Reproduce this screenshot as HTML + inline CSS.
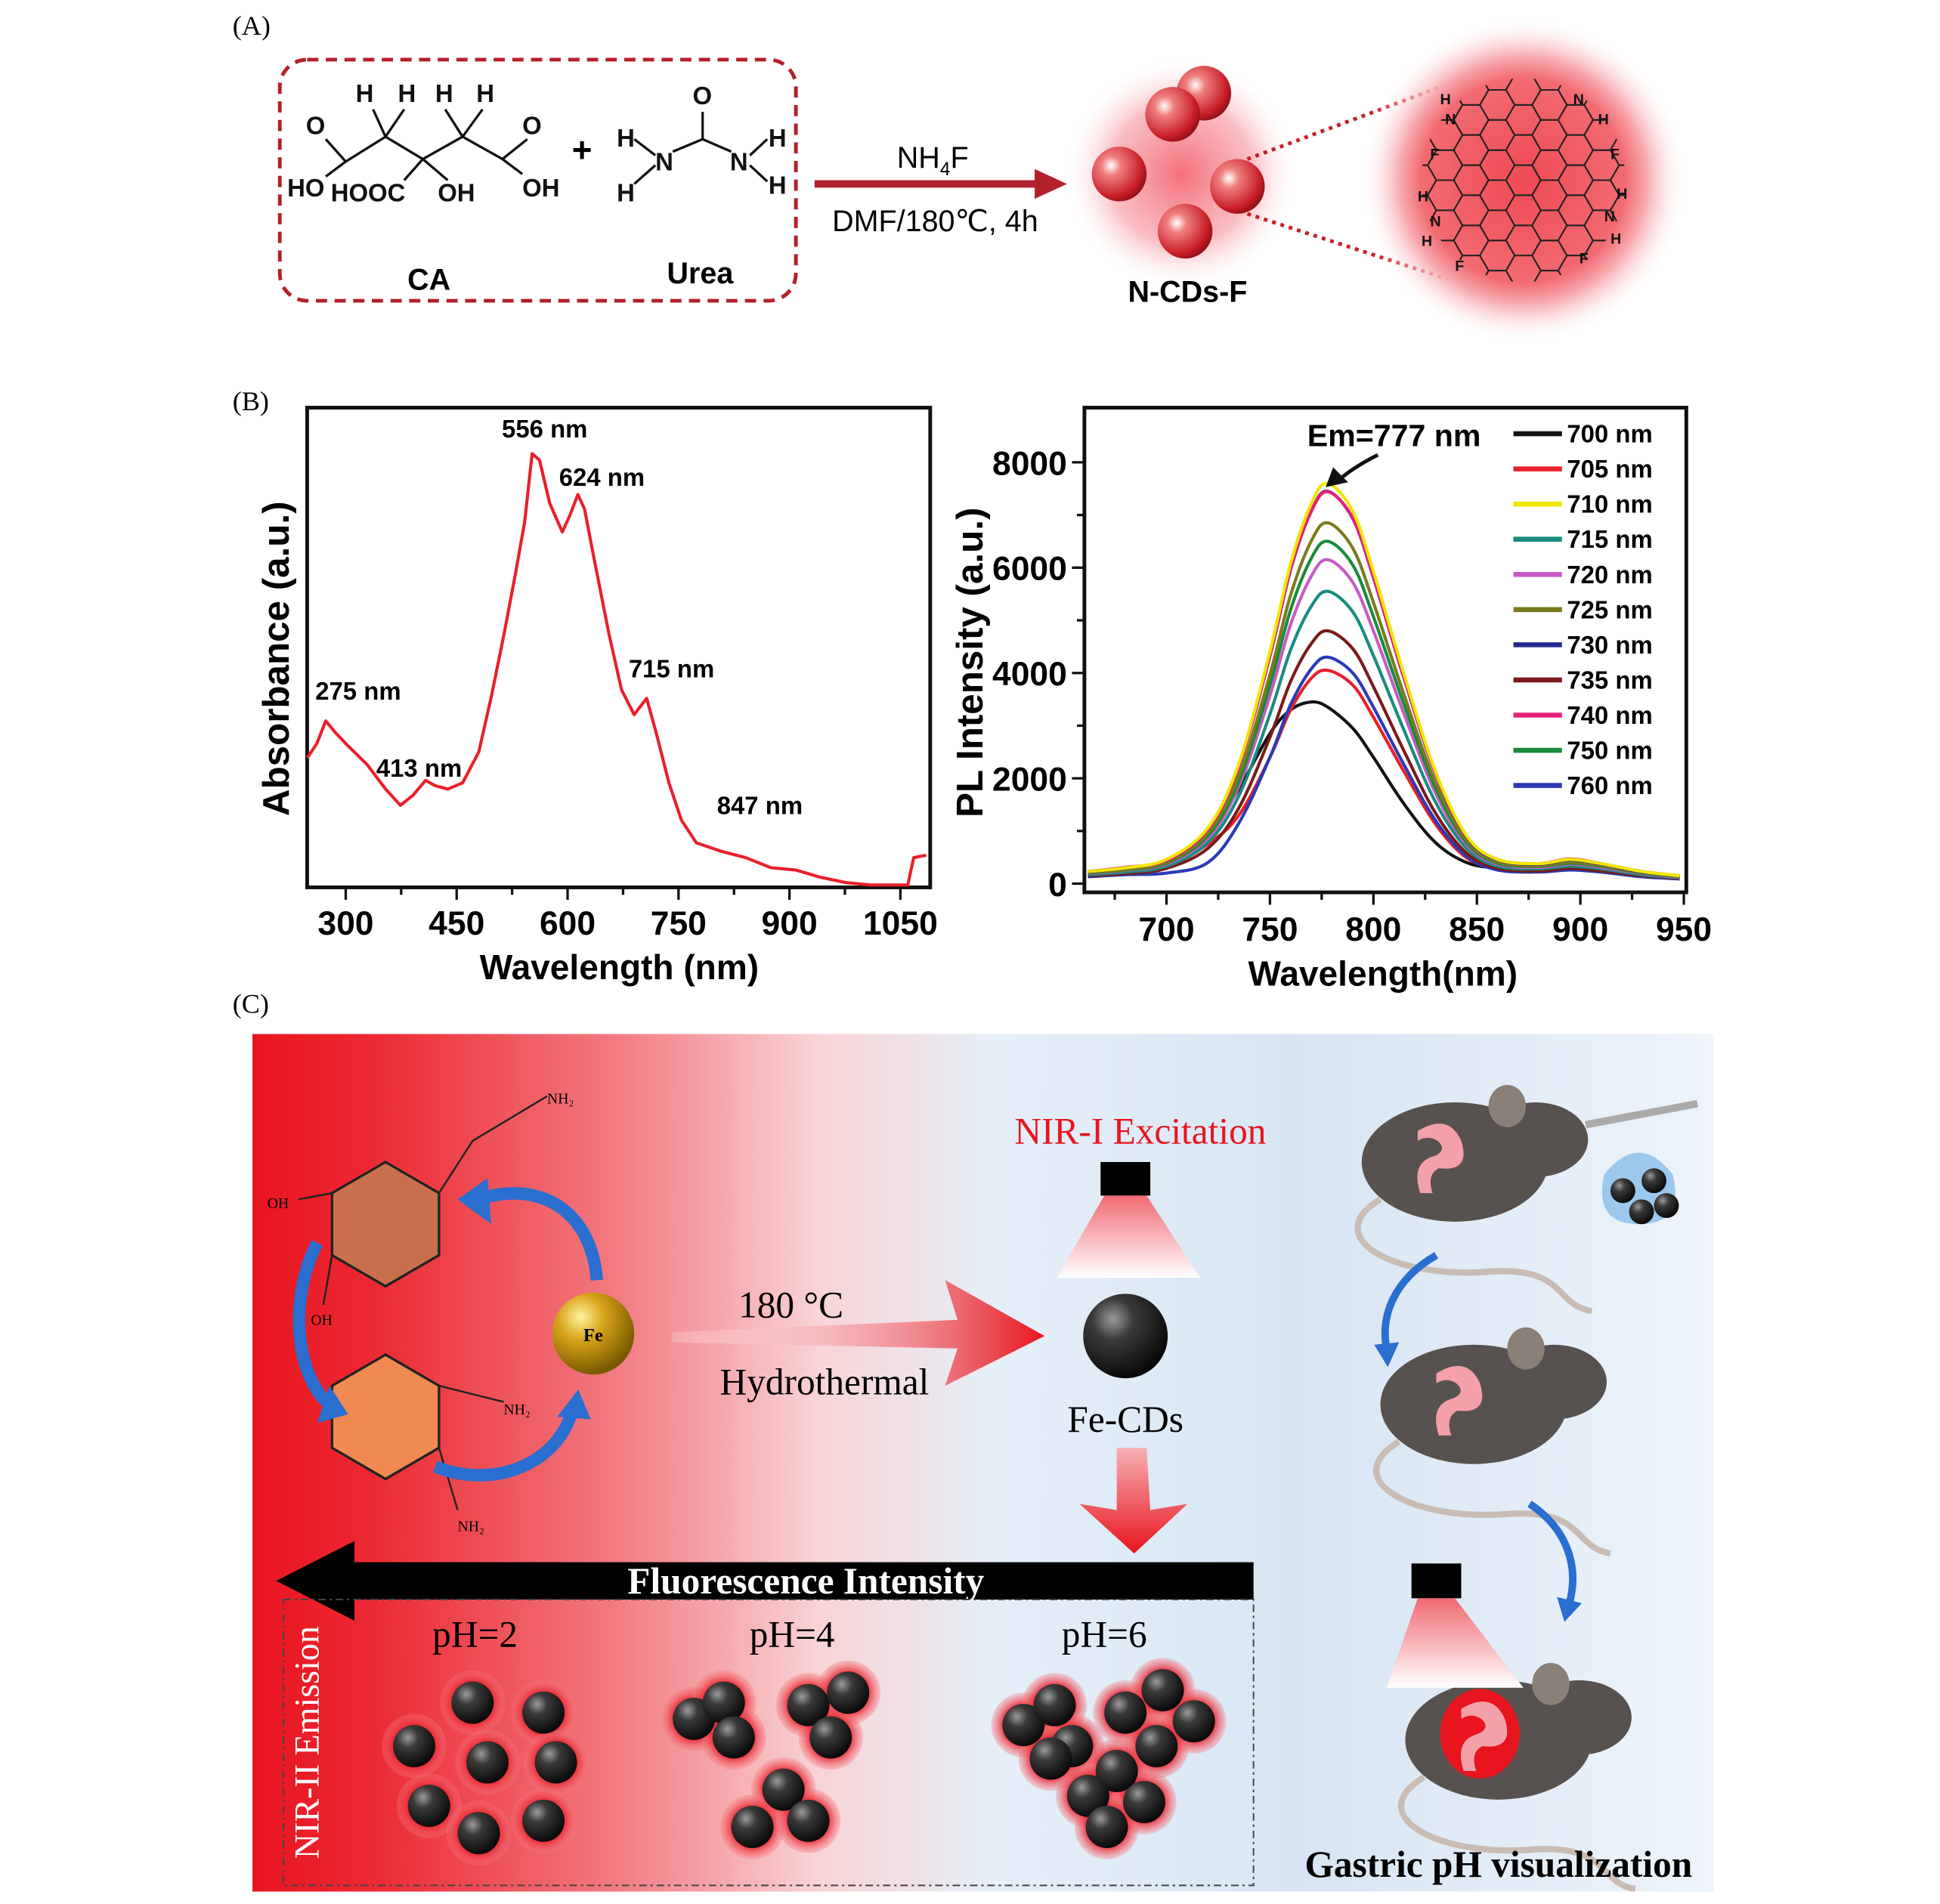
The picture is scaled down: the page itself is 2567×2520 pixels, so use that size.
<!DOCTYPE html>
<html><head><meta charset="utf-8"><style>
html,body{margin:0;padding:0;background:#fff}
svg{display:block}
text{font-family:"Liberation Sans",Arial,sans-serif}
.serif{font-family:"Liberation Serif","Times New Roman",serif}
</style></head><body>
<svg id="fig" width="2567" height="2520" viewBox="0 0 1560 1532" preserveAspectRatio="none" xmlns="http://www.w3.org/2000/svg">
<defs>
<radialGradient id="redball" cx="0.35" cy="0.35" r="0.7"><stop offset="0" stop-color="#fff"/><stop offset="0.25" stop-color="#f08080"/><stop offset="0.8" stop-color="#c81e28"/><stop offset="1" stop-color="#901018"/></radialGradient>
<radialGradient id="glow" cx="0.5" cy="0.5" r="0.5"><stop offset="0" stop-color="#f04050" stop-opacity="0.75"/><stop offset="0.6" stop-color="#f47a84" stop-opacity="0.5"/><stop offset="1" stop-color="#fff" stop-opacity="0"/></radialGradient>
<radialGradient id="bigglow" cx="0.5" cy="0.5" r="0.5"><stop offset="0" stop-color="#ef4a55"/><stop offset="0.62" stop-color="#f26a72"/><stop offset="0.75" stop-color="#f7a8ad"/><stop offset="1" stop-color="#fff" stop-opacity="0"/></radialGradient>
<radialGradient id="blackball" cx="0.35" cy="0.3" r="0.7"><stop offset="0" stop-color="#9a9a9a"/><stop offset="0.35" stop-color="#3a3a3a"/><stop offset="1" stop-color="#0a0a0a"/></radialGradient>
<radialGradient id="goldball" cx="0.35" cy="0.3" r="0.7"><stop offset="0" stop-color="#fff3a0"/><stop offset="0.4" stop-color="#d8a418"/><stop offset="1" stop-color="#7a5a00"/></radialGradient>
<radialGradient id="cglow" cx="0.5" cy="0.5" r="0.5"><stop offset="0.55" stop-color="#e8101c"/><stop offset="1" stop-color="#f47a80" stop-opacity="0.3"/></radialGradient>
<linearGradient id="cbg" x1="0" x2="1" y1="0" y2="0"><stop offset="0" stop-color="#e8141e"/><stop offset="0.12" stop-color="#ec2a34"/><stop offset="0.35" stop-color="#f27a80"/><stop offset="0.55" stop-color="#f8d4d6"/><stop offset="0.72" stop-color="#e6eff8"/><stop offset="1" stop-color="#d8e6f4"/></linearGradient>
<linearGradient id="rbg" x1="0" x2="1" y1="0" y2="0"><stop offset="0" stop-color="#d6e4f3"/><stop offset="1" stop-color="#eef4fa"/></linearGradient>
<linearGradient id="cone" x1="0" x2="0" y1="0" y2="1"><stop offset="0" stop-color="#f06a72"/><stop offset="1" stop-color="#fff"/></linearGradient>
<linearGradient id="harrow" x1="0" x2="1"><stop offset="0" stop-color="#fff" stop-opacity="0.2"/><stop offset="1" stop-color="#e8141e"/></linearGradient>
<linearGradient id="varrow" x1="0" x2="0" y1="0" y2="1"><stop offset="0" stop-color="#f6b0b4"/><stop offset="1" stop-color="#e8141e"/></linearGradient>
<clipPath id="bigclip"><circle cx="1225" cy="145" r="82"/></clipPath>
<clipPath id="rclip"><rect x="1030" y="832" width="348" height="690"/></clipPath>
</defs>

<!-- PANEL A -->
<g>
<text class="serif" x="187" y="28" font-size="22">(A)</text>
<rect x="225" y="48" width="415" height="194" rx="22" fill="none" stroke="#b4202a" stroke-width="3" stroke-dasharray="9,6"/>
<g font-size="20" font-weight="bold" fill="#111">
<text x="286" y="82">H</text><text x="320" y="82">H</text><text x="350" y="82">H</text><text x="383" y="82">H</text>
<text x="246" y="108">O</text><text x="420" y="108">O</text>
<text x="231" y="158">HO</text><text x="266" y="162">HOOC</text><text x="352" y="162">OH</text><text x="420" y="158">OH</text>
<polyline points="262,112 278,130 262,142" fill="none" stroke="#111" stroke-width="2"/>
<polyline points="278,130 310,110 340,128 372,110 404,128 420,140" fill="none" stroke="#111" stroke-width="2"/>
<line x1="404" y1="128" x2="424" y2="112" stroke="#111" stroke-width="2"/>
<line x1="310" y1="110" x2="300" y2="88" stroke="#111" stroke-width="2"/><line x1="310" y1="110" x2="325" y2="88" stroke="#111" stroke-width="2"/>
<line x1="372" y1="110" x2="358" y2="88" stroke="#111" stroke-width="2"/><line x1="372" y1="110" x2="388" y2="88" stroke="#111" stroke-width="2"/>
<line x1="340" y1="128" x2="325" y2="145" stroke="#111" stroke-width="2"/><line x1="340" y1="128" x2="360" y2="145" stroke="#111" stroke-width="2"/>
</g>
<text x="345" y="233" font-size="24" font-weight="bold" text-anchor="middle">CA</text>
<text x="468" y="130" font-size="28" font-weight="bold" text-anchor="middle">+</text>
<g font-size="20" font-weight="bold" fill="#111">
<text x="557" y="84">O</text><text x="496" y="118">H</text><text x="527" y="137">N</text><text x="496" y="162">H</text>
<text x="587" y="137">N</text><text x="618" y="118">H</text><text x="618" y="156">H</text>
<line x1="565" y1="90" x2="565" y2="112" stroke="#111" stroke-width="2"/><line x1="541" y1="122" x2="565" y2="112" stroke="#111" stroke-width="2"/><line x1="565" y1="112" x2="588" y2="122" stroke="#111" stroke-width="2"/>
<line x1="510" y1="112" x2="527" y2="125" stroke="#111" stroke-width="2"/><line x1="510" y1="148" x2="527" y2="133" stroke="#111" stroke-width="2"/>
<line x1="603" y1="125" x2="617" y2="112" stroke="#111" stroke-width="2"/><line x1="603" y1="133" x2="617" y2="146" stroke="#111" stroke-width="2"/>
</g>
<text x="563" y="228" font-size="24" font-weight="bold" text-anchor="middle">Urea</text>
<line x1="655" y1="148" x2="835" y2="148" stroke="#b4202a" stroke-width="6"/>
<polygon points="832,136 858,148 832,160" fill="#b4202a"/>
<text x="750" y="135" font-size="24" text-anchor="middle">NH<tspan font-size="15" dy="6">4</tspan><tspan dy="-6">F</tspan></text>
<text x="752" y="186" font-size="24" text-anchor="middle">DMF/180℃, 4h</text>
<g>
<circle cx="950" cy="140" r="95" fill="url(#glow)"/>
<circle cx="968" cy="75" r="22" fill="url(#redball)"/><circle cx="943" cy="92" r="22" fill="url(#redball)"/><circle cx="900" cy="140" r="22" fill="url(#redball)"/><circle cx="995" cy="150" r="22" fill="url(#redball)"/><circle cx="953" cy="186" r="22" fill="url(#redball)"/>
</g>
<text x="955" y="243" font-size="24" font-weight="bold" text-anchor="middle">N-CDs-F</text>
<line x1="1003" y1="128" x2="1212" y2="50" stroke="#c81e28" stroke-width="3" stroke-dasharray="3,4"/>
<line x1="1003" y1="172" x2="1212" y2="240" stroke="#c81e28" stroke-width="3" stroke-dasharray="3,4"/>
<circle cx="1225" cy="145" r="132" fill="url(#bigglow)"/>
<g id="hexgrid" clip-path="url(#bigclip)"></g>
<g font-size="12" font-weight="bold" fill="#111">
<text x="1158" y="84">H</text><text x="1162" y="100">N</text><text x="1150" y="128">F</text><text x="1140" y="162">H</text><text x="1150" y="182">N</text><text x="1143" y="198">H</text><text x="1170" y="218">F</text><text x="1265" y="84">N</text><text x="1285" y="100">H</text><text x="1295" y="128">F</text><text x="1300" y="160">H</text><text x="1290" y="178">N</text><text x="1295" y="196">H</text><text x="1270" y="212">F</text>
</g>
</g>

<!-- PANEL B -->
<text class="serif" x="187" y="330" font-size="22">(B)</text>
<g id="absChart"></g>
<g id="plChart"></g>

<!-- PANEL C -->
<g>
<text class="serif" x="187" y="815" font-size="22">(C)</text>
<rect x="203" y="832" width="830" height="690" fill="url(#cbg)"/>
<rect x="1030" y="832" width="348" height="690" fill="url(#rbg)"/>
<g>
<polygon points="310,935 353,960 353,1010 310,1035 267,1010 267,960" fill="#c8704c" stroke="#222" stroke-width="2"/>
<polygon points="310,1090 353,1115 353,1165 310,1190 267,1165 267,1115" fill="#f08a50" stroke="#222" stroke-width="2"/>
<polyline points="353,960 380,918 410,900 440,882" fill="none" stroke="#222" stroke-width="1.5"/>
<text class="serif" x="440" y="888" font-size="12">NH₂</text>
<line x1="267" y1="960" x2="240" y2="965" stroke="#222" stroke-width="1.5"/><text class="serif" x="215" y="972" font-size="12">OH</text>
<line x1="267" y1="1010" x2="260" y2="1050" stroke="#222" stroke-width="1.5"/><text class="serif" x="250" y="1066" font-size="12">OH</text>
<line x1="353" y1="1115" x2="405" y2="1128" stroke="#222" stroke-width="1.5"/><text class="serif" x="405" y="1138" font-size="12">NH₂</text>
<line x1="353" y1="1165" x2="368" y2="1215" stroke="#222" stroke-width="1.5"/><text class="serif" x="368" y="1232" font-size="12">NH₂</text>
<path d="M480,1030 C475,970 430,950 385,965" fill="none" stroke="#2a6ed0" stroke-width="10"/><polygon points="368,965 392,948 395,985" fill="#2a6ed0"/>
<path d="M255,1000 C230,1050 240,1110 265,1130" fill="none" stroke="#2a6ed0" stroke-width="10"/><polygon points="280,1138 255,1145 265,1115" fill="#2a6ed0"/>
<path d="M350,1180 C400,1200 450,1175 460,1135" fill="none" stroke="#2a6ed0" stroke-width="10"/><polygon points="465,1118 475,1142 448,1140" fill="#2a6ed0"/>
<circle cx="477" cy="1073" r="33" fill="url(#goldball)"/><text class="serif" x="477" y="1079" font-size="15" font-weight="bold" text-anchor="middle">Fe</text>
</g>
<polygon points="540,1072 770,1062 760,1030 840,1075 760,1115 770,1085 540,1080" fill="url(#harrow)"/>
<text class="serif" x="636" y="1060" font-size="30" text-anchor="middle">180 °C</text>
<text class="serif" x="663" y="1122" font-size="30" text-anchor="middle">Hydrothermal</text>
<text class="serif" x="917" y="920" font-size="30" fill="#e8141e" text-anchor="middle">NIR-I Excitation</text>
<rect x="885" y="935" width="40" height="27" fill="#000"/>
<polygon points="888,962 922,962 965,1028 850,1028" fill="url(#cone)"/>
<circle cx="905" cy="1075" r="34" fill="url(#blackball)"/>
<text class="serif" x="905" y="1152" font-size="30" text-anchor="middle">Fe-CDs</text>
<polygon points="898,1165 922,1165 925,1215 955,1210 912,1250 868,1210 898,1215" fill="url(#varrow)"/>
<polygon points="1008,1257 285,1257 285,1240 222,1272 285,1304 285,1287 1008,1287" fill="#000"/>
<text class="serif" x="648" y="1282" font-size="30" font-weight="bold" fill="#fff" text-anchor="middle">Fluorescence Intensity</text>
<rect x="228" y="1287" width="780" height="230" fill="none" stroke="#444" stroke-width="1.2" stroke-dasharray="6,3,2,3"/>
<text class="serif" x="0" y="0" font-size="28" fill="#fff" text-anchor="middle" transform="translate(256,1402) rotate(-90)">NIR-II Emission</text>
<text class="serif" x="382" y="1325" font-size="30" text-anchor="middle">pH=2</text>
<text class="serif" x="637" y="1325" font-size="30" text-anchor="middle">pH=4</text>
<text class="serif" x="888" y="1325" font-size="30" text-anchor="middle">pH=6</text>
<g id="clusters"></g>
<g id="mice" clip-path="url(#rclip)"></g>
<rect x="1135" y="1258" width="40" height="28" fill="#000"/>
<polygon points="1140,1286 1170,1286 1225,1358 1115,1358" fill="url(#cone)"/>
<text class="serif" x="1205" y="1510" font-size="30" font-weight="bold" text-anchor="middle">Gastric pH visualization</text>
</g>
</svg>
<script>
var NS='http://www.w3.org/2000/svg';
function mk(p,tag,attrs,txt){var e=document.createElementNS(NS,tag);for(var k in attrs)e.setAttribute(k,attrs[k]);if(txt!==undefined)e.textContent=txt;p.appendChild(e);return e;}
function smoothPath(px,py){
 var d='M'+px[0].toFixed(1)+','+py[0].toFixed(1);
 for(var i=0;i<px.length-1;i++){
  var x0=px[Math.max(i-1,0)],y0=py[Math.max(i-1,0)],x1=px[i],y1=py[i],x2=px[i+1],y2=py[i+1],x3=px[Math.min(i+2,px.length-1)],y3=py[Math.min(i+2,px.length-1)];
  var c1x=x1+(x2-x0)/6,c1y=y1+(y2-y0)/6,c2x=x2-(x3-x1)/6,c2y=y2-(y3-y1)/6;
  d+='C'+c1x.toFixed(1)+','+c1y.toFixed(1)+' '+c2x.toFixed(1)+','+c2y.toFixed(1)+' '+x2.toFixed(1)+','+y2.toFixed(1);
 }
 return d;
}

// ---------- Absorbance data ----------
var absWavelengths=[248,261,273,287,303,329,354,374,391,408,421,438,458,480,497,514,530,542,552,562,576,593,603,614,623,636,656,673,690,707,720,737,754,774,808,841,875,909,942,976,1010,1043,1060,1068,1085];
var absValues=[0.27,0.30,0.347,0.321,0.295,0.256,0.205,0.171,0.192,0.223,0.212,0.205,0.218,0.282,0.399,0.528,0.658,0.762,0.904,0.891,0.80,0.741,0.775,0.819,0.788,0.684,0.528,0.412,0.36,0.394,0.321,0.218,0.14,0.093,0.075,0.062,0.041,0.036,0.021,0.01,0.005,0.005,0.005,0.062,0.067];
var absTicks=[300,450,600,750,900,1050];
var absMinor=[375,525,675,825,975];
var absPeakLabels=['556 nm','624 nm','275 nm','413 nm','715 nm','847 nm'];

function xL(w){return 278+(w-300)*0.5947;}
function yL(a){return 714-a*386;}
(function(){
 var g=document.getElementById('absChart');
 var fr=mk(g,'rect',{x:247,y:328,width:501,height:386,fill:'none',stroke:'#111','stroke-width':3});
 
 
 absTicks.forEach(function(t){
  mk(g,'line',{x1:xL(t),x2:xL(t),y1:714,y2:724,stroke:'#111','stroke-width':2});
  var tl=mk(g,'text',{x:xL(t),y:752,'font-size':27,'font-weight':'bold','text-anchor':'middle'},String(t));
  
  
 });
 absMinor.forEach(function(t){mk(g,'line',{x1:xL(t),x2:xL(t),y1:714,y2:720,stroke:'#111','stroke-width':2});});
 var xt=mk(g,'text',{x:498,y:788,'font-size':28,'font-weight':'bold','text-anchor':'middle'},'Wavelength (nm)');
 
 
 var yt=mk(g,'text',{x:0,y:0,'font-size':30,'font-weight':'bold','text-anchor':'middle',transform:'translate(232,530) rotate(-90)'},'Absorbance (a.u.)');
 
 
 var d='';
 for(var i=0;i<absWavelengths.length;i++)d+=(i?'L':'M')+xL(absWavelengths[i]).toFixed(1)+','+yL(absValues[i]).toFixed(1);
 var p=mk(g,'path',{d:d,fill:'none',stroke:'#e8202a','stroke-width':2.5,'stroke-linejoin':'round'});
 
 
 var lx=[438,484,288,337,540,611],ly=[352,391,563,625,545,655];
 for(var j=0;j<absPeakLabels.length;j++){
  var t=mk(g,'text',{x:lx[j],y:ly[j],'font-size':20,'font-weight':'bold','text-anchor':'middle'},absPeakLabels[j]);
  
  
 }
})();

// ---------- PL data ----------
var plWavelengths=[662,680,700,720,735,750,760,770,778,790,800,815,830,845,860,880,895,910,930,948];
var plExcitation=['700 nm','705 nm','710 nm','715 nm','720 nm','725 nm','730 nm','735 nm','740 nm','750 nm','760 nm'];
var plColors=['#111111','#e8202a','#f2e600','#1a8a80','#c45cc4','#7a7a20','#22288e','#7a1a1a','#e8207a','#1a8a3a','#2a3ab8'];
var pl700=[150,220,300,900,1800,2850,3300,3450,3350,2950,2400,1500,780,400,300,300,320,280,180,120];
var pl705=[200,260,330,750,1300,2400,3300,3900,4050,3770,3160,2110,1130,490,300,260,300,240,160,110];
var pl710=[230,300,460,1060,2280,4410,6080,7220,7600,7070,5930,3950,2130,910,460,380,460,380,230,150];
var pl715=[170,220,330,780,1670,3220,4440,5270,5550,5160,4330,2890,1550,670,330,280,330,280,170,110];
var pl720=[190,250,370,860,1850,3570,4920,5840,6150,5720,4800,3200,1720,740,370,310,370,310,190,120];
var pl725=[210,270,410,960,2060,3970,5480,6510,6850,6370,5340,3560,1920,820,410,340,410,340,210,140];
var pl730=[220,300,450,1040,2240,4320,5960,7080,7450,6930,5810,3870,2090,890,450,370,450,370,220,150];
var pl735=[150,190,290,670,1440,2780,3840,4560,4800,4460,3740,2500,1340,580,290,240,290,240,150,100];
var pl740=[230,310,440,1030,2230,4330,5970,7070,7440,6940,5820,3880,2100,900,460,380,470,380,230,150];
var pl750=[200,260,390,910,1950,3770,5200,6180,6500,6050,5070,3380,1820,780,390,330,390,330,200,130];
var pl760=[130,170,200,400,1150,2400,3400,4080,4300,4000,3350,2240,1200,520,260,220,260,220,130,90];
var plSeries=[pl700,pl705,pl710,pl715,pl720,pl725,pl730,pl735,pl740,pl750,pl760];
var plXTicks=[700,750,800,850,900,950];
var plYTicks=[0,2000,4000,6000,8000];
var plYMinor=[1000,3000,5000,7000];
var plXMinor=[675,725,775,825,875,925];

function xR(w){return 938+(w-700)*1.664;}
function yR(v){return 711-v*0.042375;}
(function(){
 var g=document.getElementById('plChart');
 var fr=mk(g,'rect',{x:872,y:328,width:484,height:390,fill:'none',stroke:'#111','stroke-width':3});
 
 
 plXTicks.forEach(function(t){
  mk(g,'line',{x1:xR(t),x2:xR(t),y1:718,y2:728,stroke:'#111','stroke-width':2});
  var tl=mk(g,'text',{x:xR(t),y:757,'font-size':27,'font-weight':'bold','text-anchor':'middle'},String(t));
  
  
 });
 plXMinor.forEach(function(t){mk(g,'line',{x1:xR(t),x2:xR(t),y1:718,y2:724,stroke:'#111','stroke-width':2});});
 plYTicks.forEach(function(t){
  mk(g,'line',{x1:862,x2:872,y1:yR(t),y2:yR(t),stroke:'#111','stroke-width':2});
  var tl=mk(g,'text',{x:858,y:yR(t)+10,'font-size':27,'font-weight':'bold','text-anchor':'end'},String(t));
  
  
 });
 plYMinor.forEach(function(t){mk(g,'line',{x1:866,x2:872,y1:yR(t),y2:yR(t),stroke:'#111','stroke-width':2});});
 var xt=mk(g,'text',{x:1112,y:793,'font-size':28,'font-weight':'bold','text-anchor':'middle'},'Wavelength(nm)');
 
 
 var yt=mk(g,'text',{x:0,y:0,'font-size':30,'font-weight':'bold','text-anchor':'middle',transform:'translate(790,533) rotate(-90)'},'PL Intensity (a.u.)');
 
 
 var order=[0,1,10,7,3,4,9,5,6,8,2];
 order.forEach(function(s){
  var v=plSeries[s];
  var px=plWavelengths.map(xR),py=v.map(yR);
  var p=mk(g,'path',{d:smoothPath(px,py),fill:'none',stroke:plColors[s],'stroke-width':2.5,'stroke-linejoin':'round'});
  
  
 });
 for(var k=0;k<plExcitation.length;k++){
  var y=349+k*28.3;
  var le=mk(g,'g',{});
  
  
  mk(le,'line',{x1:1217,x2:1256,y1:y,y2:y,stroke:plColors[k],'stroke-width':4});
  mk(le,'text',{x:1260,y:y+7,'font-size':20,'font-weight':'bold'},plExcitation[k]);
 }
 var em=mk(g,'text',{x:1121,y:359,'font-size':25,'font-weight':'bold','text-anchor':'middle'},'Em=777 nm');
 
 
 mk(g,'path',{d:'M1108,366 Q1090,375 1078,385',fill:'none',stroke:'#111','stroke-width':3});
 mk(g,'polygon',{points:'1066,392 1072,376 1084,388',fill:'#111'});
})();

// decorative hex grid in zoomed CD
(function(){
 var g=document.getElementById('hexgrid');var r=14,h=r*Math.sqrt(3);
 for(var row=-4;row<=4;row++)for(var col=-4;col<=4;col++){
  var cx=1225+col*1.5*r,cy=145+row*h+(col%2?h/2:0),pts=[];
  for(var a=0;a<6;a++){var an=Math.PI/3*a;pts.push((cx+r*Math.cos(an)).toFixed(1)+','+(cy+r*Math.sin(an)).toFixed(1));}
  mk(g,'polygon',{points:pts.join(' '),fill:'none',stroke:'#222','stroke-width':1.2});
 }
})();

// clusters
(function(){
 var g=document.getElementById('clusters');
 var pts=[[380,1370],[437,1378],[333,1405],[392,1418],[447,1418],[345,1453],[437,1465],[385,1475],
  [558,1383],[582,1370],[590,1398],[650,1372],[682,1362],[668,1398],[630,1440],[605,1470],[650,1465],
  [823,1388],[848,1372],[862,1405],[905,1378],[935,1360],[960,1385],[930,1405],[845,1415],[898,1425],[875,1445],[920,1450],[890,1470]];
 pts.forEach(function(p){mk(g,'circle',{cx:p[0],cy:p[1],r:26,fill:'url(#cglow)'});});
 pts.forEach(function(p){mk(g,'circle',{cx:p[0],cy:p[1],r:17,fill:'url(#blackball)'});});
})();

// mice
(function(){
 var g=document.getElementById('mice');
 function mouse(cx,cy,glow){
  mk(g,'path',{d:'M'+(cx-60)+','+(cy+30)+' C'+(cx-110)+','+(cy+60)+' '+(cx-50)+','+(cy+95)+' '+(cx+30)+','+(cy+88)+' C'+(cx+90)+','+(cy+85)+' '+(cx+80)+','+(cy+115)+' '+(cx+110)+','+(cy+120),fill:'none',stroke:'#c8bcb4','stroke-width':5});
  mk(g,'ellipse',{cx:cx,cy:cy,rx:75,ry:48,fill:'#57524f'});
  mk(g,'ellipse',{cx:cx+65,cy:cy-18,rx:42,ry:30,fill:'#57524f'});
  mk(g,'ellipse',{cx:cx+42,cy:cy-45,rx:15,ry:17,fill:'#8a8078'});
  if(glow)mk(g,'ellipse',{cx:cx-15,cy:cy-5,rx:32,ry:36,fill:'#e8141e'});
  mk(g,'path',{d:'M'+(cx-30)+','+(cy-25)+' q25,-15 35,8 q8,25 -18,22 q-10,5 -5,20 l-10,0 q-8,-25 12,-30 q10,-5 2,-12 q-8,-5 -16,0z',fill:'#f4a0a8'});
 }
 mouse(1170,935,false);mouse(1185,1130,false);mouse(1205,1400,true);
 mk(g,'path',{d:'M1290,945 q28,-35 55,0 q10,40 -27,40 q-37,0 -28,-40z',fill:'#9cc8ee'});
 [[1305,958],[1330,950],[1320,975],[1340,970]].forEach(function(p){mk(g,'circle',{cx:p[0],cy:p[1],r:10,fill:'url(#blackball)'});});
 mk(g,'line',{x1:1275,y1:905,x2:1365,y2:888,stroke:'#aaa','stroke-width':6});
 mk(g,'path',{d:'M1155,1010 C1120,1030 1110,1060 1115,1085',fill:'none',stroke:'#2a6ed0','stroke-width':6});
 mk(g,'polygon',{points:'1105,1082 1125,1080 1116,1100',fill:'#2a6ed0'});
 mk(g,'path',{d:'M1230,1210 C1260,1230 1270,1260 1262,1290',fill:'none',stroke:'#2a6ed0','stroke-width':6});
 mk(g,'polygon',{points:'1252,1285 1272,1290 1258,1305',fill:'#2a6ed0'});
})();
</script>
</body></html>
